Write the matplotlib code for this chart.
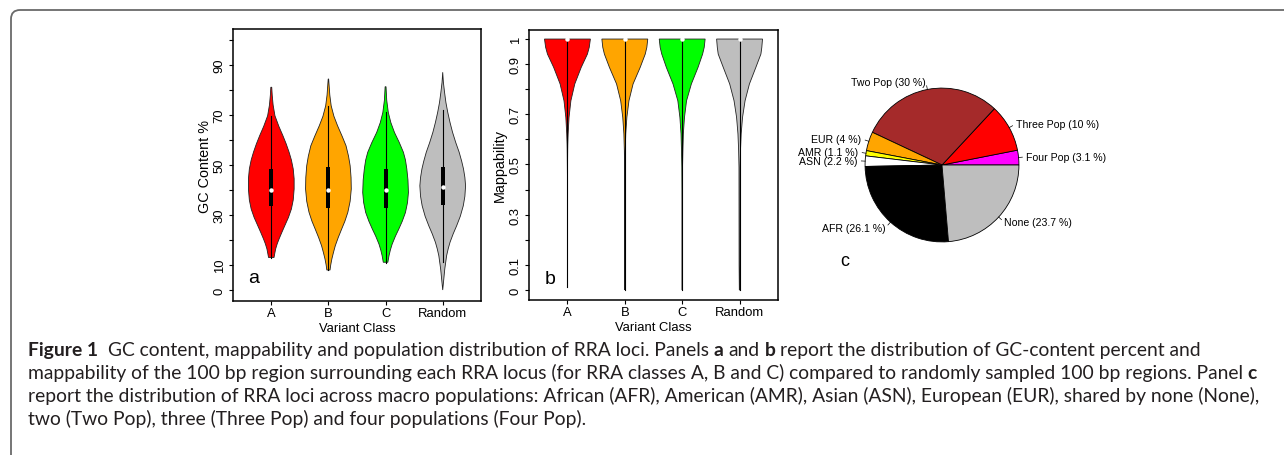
import matplotlib
matplotlib.use('Agg')
import matplotlib.pyplot as plt
from matplotlib.patches import FancyBboxPatch, Rectangle
from matplotlib.transforms import IdentityTransform
import numpy as np

plt.rcParams['font.family'] = ['Liberation Sans', 'DejaVu Sans']

classes = ['A', 'B', 'C', 'Random']
fill_colors = ['#FF0000', '#FFA500', '#00FF00', '#BEBEBE']

# panel a: GC content violins, outline (level, relative half width)
gc_a_y = [13, 14.5, 16.4, 18.5, 20.4, 23, 25.7, 29, 32.4, 36, 40.4, 44.5, 48.4, 52, 55.1, 58.5, 61.7, 65.5, 69.7, 74, 78, 81.1]
gc_a_w = [0.12, 0.15, 0.19, 0.26, 0.34, 0.46, 0.59, 0.75, 0.88, 0.96, 1.0, 1.0, 0.96, 0.88, 0.78, 0.65, 0.51, 0.33, 0.16, 0.08, 0.04, 0.02]
gc_b_y = [8, 10, 12.4, 15, 17.7, 21, 24.4, 27.5, 31.1, 35.5, 40.4, 45, 49.7, 53.5, 57.7, 61.5, 65.7, 69.5, 73.7, 78, 84.4]
gc_b_w = [0.07, 0.1, 0.15, 0.22, 0.3, 0.43, 0.58, 0.72, 0.85, 0.95, 1.0, 0.99, 0.95, 0.88, 0.77, 0.6, 0.4, 0.24, 0.12, 0.06, 0.01]
gc_c_y = [11.1, 13.7, 16, 18.4, 21.5, 24.4, 27.5, 31, 35, 39, 44, 48.4, 52, 55.1, 59, 63, 67, 71, 76, 81.3]
gc_c_w = [0.1, 0.15, 0.21, 0.29, 0.43, 0.58, 0.73, 0.87, 0.96, 1.0, 0.98, 0.93, 0.87, 0.78, 0.6, 0.39, 0.23, 0.12, 0.05, 0.02]
gc_r_y = [0, 3.7, 8.4, 13.7, 16.5, 19.1, 22.5, 25.7, 29.5, 33.7, 37.5, 41.7, 45, 48.4, 51.5, 55.1, 59, 63.1, 67, 71.1, 75, 79.1, 83, 87.1]
gc_r_w = [0.0, 0.04, 0.09, 0.17, 0.24, 0.32, 0.46, 0.61, 0.77, 0.9, 0.97, 1.0, 0.97, 0.91, 0.83, 0.72, 0.57, 0.43, 0.32, 0.22, 0.14, 0.08, 0.03, 0.0]

gc_whisk_lo = [13, 8, 11, 11.3]
gc_whisk_hi = [69.5, 73.7, 71.1, 72.1]
gc_q1 = [33.7, 32.8, 32.8, 34]
gc_q3 = [48.4, 49.3, 48.4, 49.3]
gc_med = [40.1, 40.1, 40.1, 41.1]

# panel b: mappability violins
map_a_y = [0.01, 0.45, 0.555, 0.58, 0.622, 0.688, 0.754, 0.821, 0.887, 0.94, 0.967, 1.0]
map_a_w = [0.0, 0.0, 0.01, 0.015, 0.03, 0.07, 0.15, 0.32, 0.6, 0.87, 0.95, 1.0]
map_b_y = [0.0, 0.45, 0.555, 0.622, 0.688, 0.754, 0.821, 0.887, 0.94, 0.967, 1.0]
map_b_w = [0.0, 0.005, 0.02, 0.04, 0.09, 0.18, 0.36, 0.67, 0.89, 0.96, 1.0]
map_c_y = [0.0, 0.3, 0.489, 0.555, 0.622, 0.688, 0.754, 0.821, 0.887, 0.94, 0.967, 1.0]
map_c_w = [0.0, 0.005, 0.015, 0.03, 0.05, 0.1, 0.19, 0.4, 0.69, 0.89, 0.96, 1.0]
map_r_y = [0.0, 0.1, 0.489, 0.555, 0.622, 0.688, 0.754, 0.821, 0.887, 0.94, 0.967, 1.0]
map_r_w = [0.01, 0.02, 0.025, 0.04, 0.07, 0.13, 0.24, 0.43, 0.71, 0.93, 0.97, 1.0]

map_whisk_lo = [0.01, 0.0, 0.0, 0.0]
map_whisk_hi = [1.0, 1.0, 1.0, 1.0]
map_q1 = [1.0, 1.0, 1.0, 1.0]
map_q3 = [1.0, 1.0, 1.0, 1.0]
map_med = [1.0, 1.0, 1.0, 1.0]

# panel c: population pie
pie_labels = ['Four Pop (3.1 %)', 'Three Pop (10 %)', 'Two Pop (30 %)', 'EUR (4 %)',
              'AMR (1.1 %)', 'ASN (2.2 %)', 'AFR (26.1 %)', 'None (23.7 %)']
pie_values = [3.1, 10, 30, 4, 1.1, 2.2, 26.1, 23.7]
pie_colors = ['#FF00FF', '#FF0000', '#A52A2A', '#FFA500', '#FFFF00', '#FFFFFF', '#000000', '#BEBEBE']

W, H = 1284, 456
fig = plt.figure(figsize=(W / 100, H / 100), dpi=100)


def px_axes(left, top, right, bottom):
    return fig.add_axes([left / W, (H - bottom) / H, (right - left) / W, (bottom - top) / H])


def draw_violins(ax, profiles, lo, hi, q1, q3, med):
    for i, (ys, ws) in enumerate(profiles):
        pos = i + 1
        xs = [pos + 0.4 * w for w in ws] + [pos - 0.4 * w for w in ws[::-1]]
        yy = list(ys) + list(ys[::-1])
        ax.fill(xs, yy, facecolor=fill_colors[i], edgecolor='#222222', linewidth=0.6, zorder=2)
        ax.plot([pos, pos], [lo[i], hi[i]], color='black', linewidth=0.8, zorder=3)
        ax.add_patch(Rectangle((pos - 0.035, q1[i]), 0.07, q3[i] - q1[i], facecolor='black',
                               edgecolor='none', zorder=4))
        ax.plot(pos, med[i], 'o', color='white', markersize=3.2, markeredgewidth=0, zorder=5)


def style_axes(ax, yticks, ylabels, ylabel):
    ax.set_xlim(0.33, 4.67)
    ax.set_xticks([1, 2, 3, 4])
    ax.set_xticklabels(classes)
    ax.set_yticks(yticks)
    ax.set_yticklabels(ylabels)
    ax.tick_params(direction='out', length=3, width=0.8, labelsize=9.4, pad=1.5)
    ax.tick_params(axis='y', labelrotation=90, pad=2.2)
    for lbl in ax.get_yticklabels():
        lbl.set_va('center')
    for s in ax.spines.values():
        s.set_linewidth(1.1)
    ax.set_xlabel('Variant Class', fontsize=9.4, va='center')
    ax.set_ylabel(ylabel, fontsize=10.4, va='center')


# panel a
ax_a = px_axes(233, 30, 481, 302)
draw_violins(ax_a, [(gc_a_y, gc_a_w), (gc_b_y, gc_b_w), (gc_c_y, gc_c_w), (gc_r_y, gc_r_w)],
             gc_whisk_lo, gc_whisk_hi, gc_q1, gc_q3, gc_med)
ax_a.set_ylim(-4.4, 104.4)
style_axes(ax_a, list(range(0, 101, 10)),
           ['0', '10', '', '30', '', '50', '', '70', '', '90', ''], 'GC Content %')
ax_a.xaxis.set_label_coords(0.5, -0.1)
ax_a.yaxis.set_label_coords(-0.113, 0.5)
ax_a.text(0.085, 0.088, 'a', transform=ax_a.transAxes, fontsize=14, ha='center', va='center')

# panel b
ax_b = px_axes(529, 31, 778, 301)
draw_violins(ax_b, [(map_a_y, map_a_w), (map_b_y, map_b_w), (map_c_y, map_c_w), (map_r_y, map_r_w)],
             map_whisk_lo, map_whisk_hi, map_q1, map_q3, map_med)
ax_b.set_ylim(-0.04, 1.036)
style_axes(ax_b, [i / 10 for i in range(11)],
           ['0', '0.1', '', '0.3', '', '0.5', '', '0.7', '', '0.9', '1'], 'Mappability')
ax_b.xaxis.set_label_coords(0.5, -0.1)
ax_b.yaxis.set_label_coords(-0.116, 0.5)
ax_b.text(0.084, 0.078, 'b', transform=ax_b.transAxes, fontsize=14, ha='center', va='center')

# panel c
ax_c = px_axes(842, 66, 1042, 266)
wedges, _ = ax_c.pie(pie_values, colors=pie_colors, startangle=0, counterclock=True, radius=1,
                     wedgeprops=dict(edgecolor='black', linewidth=0.6))
ax_c.set_xlim(-1.3, 1.3)
ax_c.set_ylim(-1.3, 1.3)
ax_c.set_aspect('equal')
ax_c.axis('off')
for wd, lab in zip(wedges, pie_labels):
    ang = np.deg2rad((wd.theta1 + wd.theta2) / 2)
    cx, cy = np.cos(ang), np.sin(ang)
    ax_c.plot([cx, 1.05 * cx], [cy, 1.05 * cy], color='black', linewidth=0.5, clip_on=False)
    ax_c.text(1.1 * cx, 1.1 * cy, lab, fontsize=7.6, ha='right' if cx < 0 else 'left',
              va='center', clip_on=False)
fig.text(845 / W, (H - 262) / H, 'c', fontsize=13, ha='center', va='center')

# frame
frame = FancyBboxPatch((11, -40), 1320, H - 11 + 40, boxstyle='round,pad=0,rounding_size=9',
                       transform=IdentityTransform(), facecolor='none', edgecolor='#6a6a6a',
                       linewidth=1.3)
fig.add_artist(frame)

# caption
cap_font = ['Lato', 'DejaVu Sans']
caption_lines = [
    [('Figure 1', 'bold'), ('  GC content, mappability and population distribution of RRA loci. Panels ', 'normal'),
     ('a', 'bold'), (' and ', 'normal'), ('b', 'bold'),
     (' report the distribution of GC-content percent and', 'normal')],
    [('mappability of the 100 bp region surrounding each RRA locus (for RRA classes A, B and C) '
      'compared to randomly sampled 100 bp regions. Panel ', 'normal'), ('c', 'bold')],
    [('report the distribution of RRA loci across macro populations: African (AFR), American (AMR), '
      'Asian (ASN), European (EUR), shared by none (None),', 'normal')],
    [('two (Two Pop), three (Three Pop) and four populations (Four Pop).', 'normal')],
]
cap_baselines = [356, 379, 402, 425]

renderer = fig.canvas.get_renderer()


def text_w(s, size, weight):
    t = fig.text(0, 0, s, fontsize=size, fontweight=weight, family=cap_font)
    w = t.get_window_extent(renderer).width
    t.remove()
    return w


def space_w(size, weight):
    return text_w('a a', size, weight) - text_w('aa', size, weight)


def line_parts(parts, size, x0, base, draw):
    x = x0
    for s, wt in parts:
        lead = len(s) - len(s.lstrip(' '))
        trail = len(s) - len(s.rstrip(' '))
        core = s.strip(' ')
        sp = space_w(size, 'normal')
        x += lead * sp
        if draw:
            fig.text(x, H - base, core, fontsize=size, fontweight=wt, family=cap_font,
                     color='#231f20', transform=IdentityTransform(), va='baseline', ha='left')
        x += text_w(core, size, wt)
        x += trail * sp
    return x


size0 = 10.0
w0 = line_parts(caption_lines[1], size0, 0, 0, False)
cap_size = size0 * 1235 / w0
for parts, base in zip(caption_lines, cap_baselines):
    line_parts(parts, cap_size, 28, base, True)

fig.savefig('out.png', dpi=100)
plt.close(fig)
